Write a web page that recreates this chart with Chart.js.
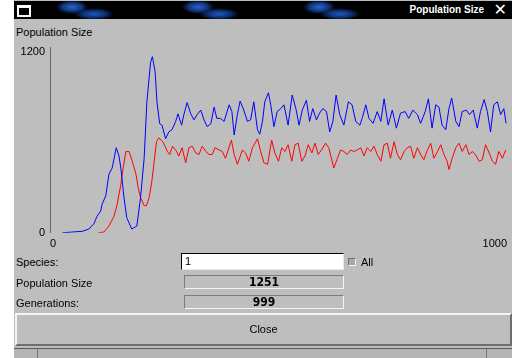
<!DOCTYPE html>
<html>
<head>
<meta charset="utf-8">
<script src="https://cdn.jsdelivr.net/npm/chart.js@4"></script>
<style>
  html, body { margin: 0; padding: 0; background: #fff; }
  body { width: 512px; height: 358px; position: relative; overflow: hidden;
         font-family: "Liberation Sans", Arial, sans-serif; font-size: 11px; color: #000; }
  .win { position: absolute; left: 14px; top: 0; width: 498px; height: 358px; background: #bebebe; }
  .titlebar { position: absolute; left: 14px; top: 1px; width: 498px; height: 18px; background-color: #000;
    background-image:
      radial-gradient(ellipse 16px 7px at 58px 6px, #2a63c4 0%, #123a86 55%, transparent 100%),
      radial-gradient(ellipse 20px 6px at 80px 13px, #1f58b8 0%, #0e3276 55%, transparent 100%),
      radial-gradient(ellipse 16px 7px at 184px 6px, #2a63c4 0%, #123a86 55%, transparent 100%),
      radial-gradient(ellipse 20px 6px at 205px 13px, #1f58b8 0%, #0e3276 55%, transparent 100%),
      radial-gradient(ellipse 16px 7px at 305px 6px, #2a63c4 0%, #123a86 55%, transparent 100%),
      radial-gradient(ellipse 20px 6px at 326px 13px, #1f58b8 0%, #0e3276 55%, transparent 100%);
  }
  .ticon { position: absolute; left: 3px; top: 4px; width: 10px; height: 7px; border: 2px solid #fff; border-top-width: 3px; }
  .ttext { position: absolute; right: 26px; top: 2px; color: #fff; font-weight: bold; font-size: 10px; line-height: 14px; background: #000; padding: 0 2px; }
  .tclose { position: absolute; right: 5px; top: 1px; color: #fff; font-size: 16px; line-height: 16px; font-family: "DejaVu Sans", sans-serif; }
  .lbl { position: absolute; left: 16px; line-height: 13px; }
  #chart { position: absolute; left: 0; top: 36px; }
  .field { position: absolute; left: 181px; top: 253px; width: 158px; height: 15px; background: #fff;
           border-top: 1px solid #000; border-left: 1px solid #000; border-right: 1px solid #e8e8e8; border-bottom: 1px solid #e8e8e8;
           line-height: 15px; padding-left: 3px; box-sizing: content-box; }
  .chk { position: absolute; left: 348px; top: 258px; width: 6px; height: 6px; background: #a8a8a8;
         border-top: 1px solid #707070; border-left: 1px solid #707070; border-right: 1px solid #f0f0f0; border-bottom: 1px solid #f0f0f0; }
  .lcd { position: absolute; left: 184px; width: 158px; height: 12px; border-top: 1px solid #7a7a7a; border-left: 1px solid #7a7a7a;
         border-right: 1px solid #f4f4f4; border-bottom: 1px solid #f4f4f4; text-align: center;
         font-family: "DejaVu Sans Condensed", "DejaVu Sans", sans-serif; font-weight: bold; font-size: 12px; line-height: 12px; letter-spacing: 0; }
  .btn { position: absolute; left: 15px; top: 313px; width: 493px; height: 29px; border-top: 2px solid #f4f4f4; border-left: 2px solid #f4f4f4;
         border-right: 2px solid #6e6e6e; border-bottom: 2px solid #6e6e6e; text-align: center; line-height: 29px; }
  .bar { position: absolute; left: 14px; top: 348px; width: 498px; height: 10px; background: #b4b4b4; border-top: 1px solid #5a5a5a; }
  .sep { position: absolute; top: 349px; width: 1px; height: 9px; background: #787878; }
</style>
</head>
<body>
<div class="win"></div>
<div class="titlebar">
  <div class="ticon"></div>
  <div class="ttext">Population Size</div>
  <div class="tclose">✕</div>
</div>
<div class="lbl" style="top:26px">Population Size</div>
<canvas id="chart" width="512" height="220"></canvas>

<div class="lbl" style="top:256px">Species:</div>
<div class="field">1</div>
<div class="chk"></div>
<div class="lbl" style="left:361px; top:256px">All</div>
<div class="lbl" style="top:277px">Population Size</div>
<div class="lcd" style="top:275px">1251</div>
<div class="lbl" style="top:297px">Generations:</div>
<div class="lcd" style="top:295px">999</div>
<div class="btn">Close</div>
<div class="bar"></div>
<div class="sep" style="left:37px"></div>
<div class="sep" style="left:486px"></div>

<script>
// generations and population sizes
const blueGen = [27, 71, 85, 96, 103, 111, 114, 122, 129, 136, 145, 151, 155, 162, 168, 179, 190, 198, 206, 212,
  220, 224, 230, 234, 240, 245, 253, 260, 267, 275, 280, 288, 293, 300, 308, 315, 322, 330, 337, 344,
  352, 359, 365, 373, 381, 392, 398, 403, 410, 416, 424, 432, 439, 446, 454, 459, 465, 470, 478, 483,
  490, 497, 505, 512, 521, 530, 538, 545, 552, 561, 568, 575, 583, 590, 597, 605, 612, 619, 626, 634,
  643, 653, 661, 669, 678, 683, 691, 698, 707, 716, 724, 731, 740, 749, 758, 767, 777, 785, 794, 804,
  811, 821, 828, 836, 844, 851, 858, 866, 873, 879, 888, 895, 902, 911, 918, 926, 935, 942, 950, 957,
  964, 971, 979, 986, 993, 998];
const blueVal = [0, 10, 25, 60, 110, 145, 190, 245, 390, 430, 565, 510, 430, 230, 100, 25, 45, 230, 495, 870,
  1130, 1170, 1070, 870, 725, 715, 625, 670, 685, 740, 790, 715, 785, 865, 790, 750, 785, 815, 750, 705,
  725, 835, 760, 760, 740, 850, 805, 650, 785, 875, 815, 740, 750, 870, 685, 655, 740, 870, 930, 850,
  705, 805, 825, 850, 715, 915, 825, 715, 815, 880, 740, 825, 750, 795, 825, 805, 670, 740, 915, 785,
  715, 870, 850, 740, 715, 760, 850, 760, 727, 805, 740, 890, 715, 815, 695, 795, 805, 760, 815, 785,
  727, 805, 890, 695, 850, 835, 715, 685, 825, 895, 740, 705, 805, 815, 785, 815, 695, 805, 885, 805,
  670, 850, 870, 785, 825, 727];

const redGen = [106, 118, 129, 140, 147, 155, 160, 166, 173, 180, 188, 193, 198, 206, 211, 217, 223, 228, 233, 238,
  247, 257, 262, 268, 275, 282, 289, 297, 304, 311, 319, 326, 333, 341, 348, 355, 361, 370, 377, 384,
  392, 397, 403, 410, 421, 428, 435, 443, 454, 461, 468, 476, 485, 492, 500, 507, 514, 521, 529, 536,
  543, 551, 558, 565, 573, 580, 587, 594, 603, 610, 621, 629, 636, 643, 650, 658, 665, 672, 680, 687,
  694, 702, 709, 716, 724, 731, 738, 745, 753, 760, 767, 775, 782, 789, 796, 804, 811, 818, 826, 833,
  840, 848, 855, 862, 869, 873, 880, 888, 895, 902, 910, 917, 924, 931, 939, 946, 953, 961, 968, 975,
  982, 990, 997];
const redVal = [0, 5, 45, 110, 190, 320, 430, 540, 540, 475, 390, 300, 235, 180, 180, 235, 345, 475, 605, 630,
  605, 540, 520, 575, 550, 510, 565, 465, 565, 575, 530, 520, 575, 540, 520, 520, 565, 550, 540, 495,
  570, 615, 520, 455, 550, 530, 475, 565, 625, 540, 465, 455, 615, 530, 475, 565, 540, 585, 475, 585,
  595, 475, 510, 585, 530, 595, 520, 550, 595, 565, 430, 495, 550, 540, 520, 550, 540, 550, 565, 510,
  565, 540, 575, 520, 475, 585, 595, 495, 605, 520, 485, 540, 565, 575, 495, 565, 520, 485, 550, 595,
  495, 540, 585, 520, 475, 420, 495, 565, 595, 540, 585, 520, 540, 520, 475, 485, 585, 530, 475, 455,
  540, 495, 550];

const xTicks = [0, 1000];
const yTicks = [0, 1200];

const tickFont = { family: 'Liberation Sans', size: 11 };
const ctx = document.getElementById('chart').getContext('2d');

new Chart(ctx, {
  type: 'line',
  data: {
    datasets: [{
      data: blueGen.map((g, i) => ({ x: g, y: blueVal[i] })),
      borderColor: '#0000ff',
      borderWidth: 1,
      pointRadius: 0,
      fill: false,
      tension: 0
    }, {
      data: redGen.map((g, i) => ({ x: g, y: redVal[i] })),
      borderColor: '#ff0000',
      borderWidth: 1,
      pointRadius: 0,
      fill: false,
      tension: 0
    }]
  },
  options: {
    responsive: false,
    animation: false,
    layout: { padding: { left: 0, right: 4, top: 9, bottom: 0 } },
    plugins: { legend: { display: false }, tooltip: { enabled: false } },
    scales: {
      x: {
        type: 'linear',
        min: 0,
        max: 1000,
        grid: { display: false, drawTicks: false },
        border: { display: false },
        afterBuildTicks: s => { s.ticks = xTicks.map(v => ({ value: v })); },
        ticks: { align: 'inner', padding: 5, color: '#000', font: tickFont, maxRotation: 0,
                 callback: v => String(v) }
      },
      y: {
        min: 0,
        max: 1230,
        grid: { display: false, drawTicks: false },
        border: { display: true, color: '#6a6a6a' },
        afterBuildTicks: s => { s.ticks = yTicks.map(v => ({ value: v })); },
        afterFit: s => { s.width = 50; },
        ticks: { padding: 5, color: '#000', font: tickFont, callback: v => String(v) }
      }
    }
  }
});
</script>
</body>
</html>
